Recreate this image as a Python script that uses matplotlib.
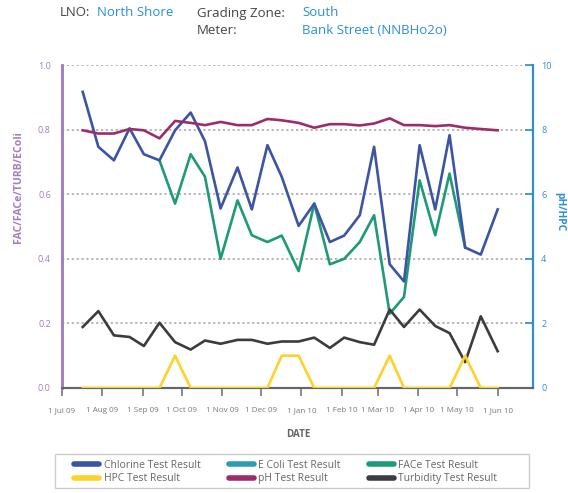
import matplotlib
matplotlib.use("Agg")
import matplotlib.pyplot as plt
import matplotlib.dates as mdates
from matplotlib.lines import Line2D
from matplotlib.patches import Rectangle
from matplotlib.ticker import FuncFormatter
import numpy as np

plt.rcParams['font.family'] = ['Open Sans', 'DejaVu Sans']

dates = ['2009-07-17', '2009-07-29', '2009-08-10', '2009-08-22', '2009-09-02',
         '2009-09-14', '2009-09-26', '2009-10-08', '2009-10-19', '2009-10-31',
         '2009-11-13', '2009-11-24', '2009-12-06', '2009-12-17', '2009-12-30',
         '2010-01-11', '2010-01-23', '2010-02-03', '2010-02-15', '2010-02-26',
         '2010-03-10', '2010-03-21', '2010-04-02', '2010-04-14', '2010-04-25',
         '2010-05-07', '2010-05-19', '2010-06-01']

chlorine = [0.917, 0.747, 0.705, 0.804, 0.724, 0.705, 0.798, 0.853, 0.764, 0.556,
            0.683, 0.553, 0.752, 0.654, 0.502, 0.571, 0.452, 0.472, 0.535, 0.747,
            0.383, 0.330, 0.752, 0.553, 0.783, 0.435, 0.413, 0.553]
nan = np.nan
face = [nan, nan, nan, nan, nan, 0.705, 0.571, 0.724, 0.654, 0.400,
        0.581, 0.473, 0.452, 0.472, 0.362, 0.571, 0.383, 0.400, 0.452, 0.535,
        0.230, 0.282, 0.643, 0.473, 0.664, 0.435, nan, nan]
ecoli = [0.0] * 28
turbidity = [0.189, 0.238, 0.163, 0.158, 0.130, 0.202, 0.142, 0.119, 0.147, 0.137,
             0.149, 0.149, 0.137, 0.144, 0.144, 0.156, 0.124, 0.156, 0.142, 0.134,
             0.243, 0.189, 0.243, 0.192, 0.170, 0.080, 0.222, 0.114]
ph = [7.98, 7.88, 7.88, 8.02, 7.98, 7.73, 8.27, 8.21, 8.14, 8.24,
      8.14, 8.14, 8.33, 8.29, 8.21, 8.06, 8.17, 8.17, 8.13, 8.19,
      8.35, 8.14, 8.14, 8.11, 8.14, 8.06, 8.02, 7.98]
hpc = [0, 0, 0, 0, 0, 0, 1, 0, 0, 0,
       0, 0, 0, 1, 1, 0, 0, 0, 0, 0,
       1, 0, 0, 0, 0, 1, 0, 0]

x = np.array(dates, dtype='datetime64[D]')

c_chl = '#3b54a3'
c_eco = '#2b9bb8'
c_face = '#1e9a78'
c_hpc = '#fdd22b'
c_ph = '#9c2c6c'
c_turb = '#3a3c3f'
c_left = '#a07cc5'
c_right = '#2a8fd6'
c_gray = '#777777'

fig = plt.figure(figsize=(5.68, 4.93), dpi=100)
ax = fig.add_axes([0.109, 0.213, 0.829, 0.655])
ax2 = ax.twinx()

lw = 1.9
ax.plot(x, face, color=c_face, lw=lw, zorder=3)
ax.plot(x, chlorine, color=c_chl, lw=lw, zorder=4)
ax.plot(x, turbidity, color=c_turb, lw=lw, zorder=5)
ax2.plot(x, ecoli, color=c_eco, lw=lw, zorder=2)
ax2.plot(x, hpc, color=c_hpc, lw=lw, zorder=3)
ax2.plot(x, ph, color=c_ph, lw=lw, zorder=4)

ax.set_ylim(0, 1.0)
ax2.set_ylim(0, 10)
ax.set_xlim(np.datetime64('2009-07-01'), np.datetime64('2010-06-28'))

ax.set_yticks(np.arange(0, 1.01, 0.2))
ax.yaxis.set_major_formatter(FuncFormatter(lambda v, p: f'{v:.1f}'))
ax2.set_yticks(np.arange(0, 11, 2))

for v in [0.2, 0.4, 0.6, 0.8, 1.0]:
    ax.axhline(v, color='#b0b0b0', lw=1.3, ls=(0, (1.2, 1.5)), zorder=1)

ax.xaxis.set_major_locator(mdates.MonthLocator())
ax.xaxis.set_major_formatter(FuncFormatter(
    lambda v, p: f"{mdates.num2date(v).day} {mdates.num2date(v):%b %y}"))

ax.tick_params(axis='x', colors=c_gray, labelsize=5.8, length=6, width=1.2, pad=8)
ax.tick_params(axis='y', colors=c_left, labelsize=6.5, length=0, pad=8)
ax2.tick_params(axis='y', colors=c_right, labelsize=6.5, length=6, width=1.2,
                direction='in', pad=6)

for a in (ax, ax2):
    a.spines['top'].set_visible(False)
    a.spines['left'].set_color(c_left)
    a.spines['left'].set_linewidth(1.8)
    a.spines['right'].set_color(c_right)
    a.spines['right'].set_linewidth(1.5)
    a.spines['bottom'].set_color('#666666')
    a.spines['bottom'].set_linewidth(1.5)

fig.text(0.032, 0.62, 'FAC/FACe/TURB/EColi', rotation=90, ha='center', va='center',
         color=c_left, fontsize=7.6, fontweight='bold')
fig.text(0.986, 0.57, 'pH/HPC', rotation=270, ha='center', va='center',
         color=c_right, fontsize=7.4, fontweight='bold')
fig.text(0.525, 0.118, 'DATE', ha='center', va='center', color='#666666',
         fontsize=7, fontweight='bold')

# header
hs = 9.5
fig.text(60 / 568, 1 - 13 / 493, 'LNO:', color='#444444', fontsize=hs, va='center')
fig.text(97 / 568, 1 - 13 / 493, 'North Shore', color=c_right, fontsize=hs, va='center')
fig.text(197 / 568, 1 - 13 / 493, 'Grading Zone:', color='#444444', fontsize=hs, va='center')
fig.text(302 / 568, 1 - 13 / 493, 'South', color=c_right, fontsize=hs, va='center')
fig.text(197 / 568, 1 - 31 / 493, 'Meter:', color='#444444', fontsize=hs, va='center')
fig.text(302 / 568, 1 - 31 / 493, 'Bank Street (NNBHo2o)', color=c_right, fontsize=hs,
         va='center')

# legend box drawn separately, legend itself without frame
fig.patches.append(Rectangle((55 / 568, 1 - 488 / 493), 474 / 568, 34 / 493,
                             transform=fig.transFigure, fill=False,
                             edgecolor='#cccccc', lw=1.0))

def h(c):
    return Line2D([], [], color=c, lw=4, solid_capstyle='round')

handles = [h(c_chl), h(c_hpc), h(c_eco), h(c_ph), h(c_face), h(c_turb)]
labels = ['Chlorine Test Result', 'HPC Test Result', 'E Coli Test Result',
          'pH Test Result', 'FACe Test Result', 'Turbidity Test Result']
leg = fig.legend(handles, labels, ncol=3, loc='center left',
                 bbox_to_anchor=(74 / 568, 1 - 472 / 493),
                 fontsize=7.5, frameon=False,
                 handlelength=2.4, handletextpad=0.45, columnspacing=2.7,
                 labelspacing=0.25, borderpad=0, borderaxespad=0)
for t in leg.get_texts():
    t.set_color('#666666')

fig.savefig('out.png', dpi=100)
